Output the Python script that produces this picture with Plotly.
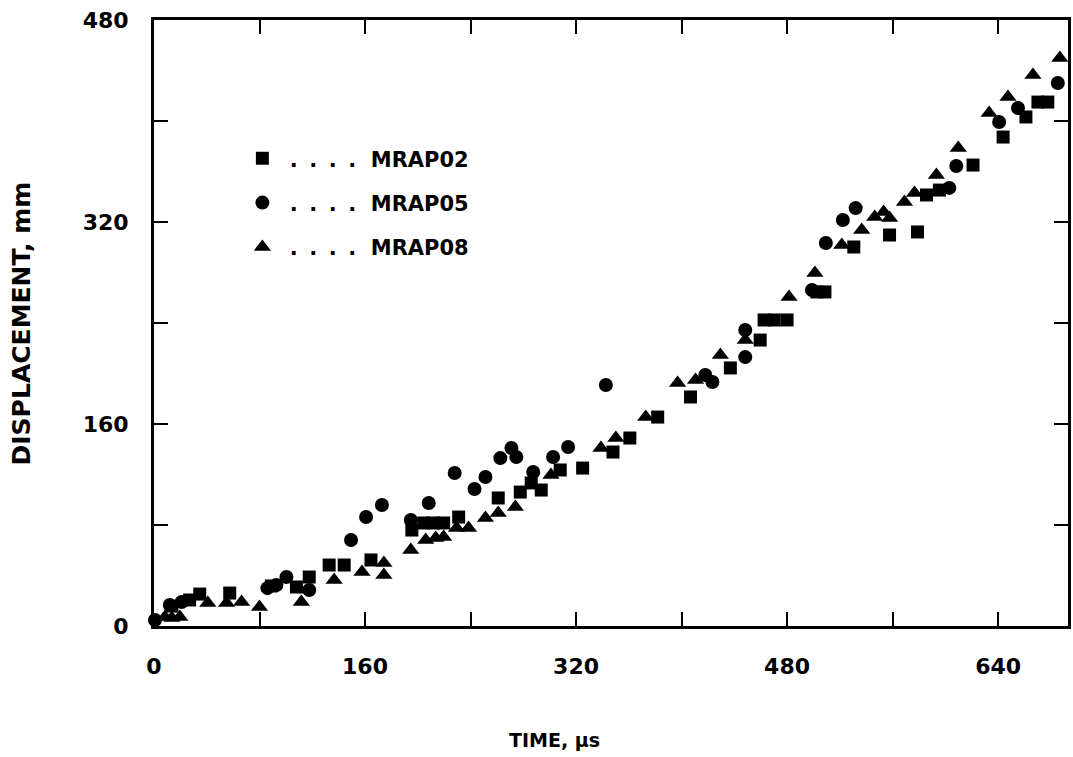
import plotly.graph_objects as go

# data (time in us, displacement in mm)
mrap02_t = [13.6, 27, 34.7, 57.4, 89, 108, 117.7, 132.8, 144.2, 164.5, 195.5, 204.5, 212, 219.6,
            231, 261, 277.7, 286, 293.6, 308, 325, 348, 360.8, 381.9, 406.8, 437, 459.6, 462.6,
            470.2, 480, 502.6, 508.7, 530.6, 557.7, 578.9, 585.7, 595.5, 621, 643.8, 661.1, 670.2, 677.7]
mrap02_d = [15.8, 20.6, 25.3, 26.1, 31.7, 30.9, 38.8, 48.3, 48.3, 52.3, 76, 81.6, 81.6, 81.6,
            86.3, 101.4, 106.1, 113.3, 107.7, 123.6, 125.1, 137.8, 148.9, 165.5, 181.4, 204.4, 226.5, 242.4,
            242.4, 242.4, 264.6, 264.6, 300.2, 309.7, 312.1, 341.4, 345.3, 365.1, 387.3, 403.2, 415, 415]

mrap05_t = [0.75, 12, 21, 86, 92.8, 100.4, 117.7, 149.4, 160.8, 172.8, 194.7, 208.3, 228, 243,
            251.3, 262.6, 271, 274.7, 287.5, 302.6, 314, 342.6, 418, 423.4, 448.3, 448.3, 498.9,
            509.4, 522.3, 532, 603, 608.3, 640.8, 655.1, 685.3]
mrap05_d = [4.8, 16.6, 19, 30, 32.5, 38.8, 28.5, 68.1, 86.3, 95.8, 84, 97.4, 121.2, 108.5,
            118, 133, 141, 133.9, 122, 133.9, 141.8, 190.9, 198.8, 193.3, 213, 234.5, 266.1,
            303.4, 321.6, 331, 347, 364.4, 399.2, 410.3, 430.1]

mrap08_t = [8.3, 13.6, 19.6, 40.8, 55, 66.4, 80, 111.7, 136.6, 157.7, 174.3, 174.3, 194.7, 206,
            213.6, 219.6, 229.4, 238.5, 251.3, 261, 274, 301, 338.9, 350.2, 372.8, 397, 410.6,
            429.4, 448.3, 481.5, 501.1, 521.5, 536.6, 546.4, 553.2, 557.7, 569, 576.6, 593.2,
            609.8, 633.2, 647.5, 666.4, 686.8]
mrap08_d = [7.1, 6.3, 7.1, 18.2, 18.2, 19, 15, 19, 36.4, 42.8, 49.9, 40.4, 60.2, 68.1,
            69.7, 70.5, 77.6, 77.6, 85.5, 89.5, 94.3, 119.6, 141, 148.9, 165.5, 192.5, 194.9,
            214.7, 226.5, 260.6, 279.6, 301.8, 313.7, 324, 327.9, 323.2, 335.8, 343, 357.2,
            378.6, 406.3, 419, 436.4, 449.9]

x_ticks = [0, 80, 160, 240, 320, 400, 480, 560, 640]
x_labels = ["0", "", "160", "", "320", "", "480", "", "640"]
y_ticks = [0, 80, 160, 240, 320, 400, 480]
y_labels = ["0", "", "160", "", "320", "", "480"]

font = "DejaVu Sans"
# dotted leader between the symbol and the name, like the original key
dots = "\u00a0" + ".\u00a0\u2009" * 3 + "." + "\u00a0\u00a0"

fig = go.Figure()
fig.add_trace(go.Scatter(x=mrap02_t, y=mrap02_d, mode="markers", name=dots + "MRAP02",
                         legendgroup="a",
                         marker=dict(symbol="square", size=13, color="black"), cliponaxis=False))
fig.add_trace(go.Scatter(x=mrap05_t, y=mrap05_d, mode="markers", name=dots + "MRAP05",
                         legendgroup="b",
                         marker=dict(symbol="circle", size=14, color="black"), cliponaxis=False))
fig.add_trace(go.Scatter(x=mrap08_t, y=mrap08_d, mode="markers", name=dots + "MRAP08",
                         legendgroup="c",
                         marker=dict(symbol="triangle-up", size=15, color="black"), cliponaxis=False))

axis_style = dict(showline=True, linecolor="black", linewidth=3, mirror="ticks",
                  ticks="inside", ticklen=14, tickwidth=2, tickcolor="black",
                  showgrid=False, zeroline=False,
                  tickfont=dict(family=font, size=22, color="black", weight="bold"))

fig.update_xaxes(range=[0, 693], tickvals=x_ticks, ticktext=x_labels,
                 ticklabelstandoff=19, **axis_style)
fig.update_yaxes(range=[0, 480], tickvals=y_ticks, ticktext=y_labels,
                 ticklabelstandoff=18, **axis_style)

fig.add_annotation(text="TIME, μs", xref="paper", yref="paper", x=(556 - 154) / 917, y=-114 / 606,
                   xanchor="center", yanchor="middle", showarrow=False,
                   font=dict(family=font, size=19, color="black", weight="bold"))
fig.add_annotation(text="DISPLACEMENT, mm", xref="paper", yref="paper", x=(21 - 154) / 917, y=0.5,
                   xanchor="center", yanchor="middle", textangle=-90, showarrow=False,
                   font=dict(family=font, size=25, color="black", weight="bold"))

fig.update_layout(width=1073, height=757, margin=dict(l=154, r=2, t=20, b=131),
                  plot_bgcolor="white", paper_bgcolor="white",
                  showlegend=True,
                  legend=dict(x=0.0967, y=0.805, xanchor="left", yanchor="top", tracegroupgap=14,
                              bgcolor="rgba(0,0,0,0)",
                              font=dict(family=font, size=21, color="black", weight="bold")))

fig.write_html("out.html", config={"displayModeBar": False},
               post_script="document.body.style.margin='0px';")
